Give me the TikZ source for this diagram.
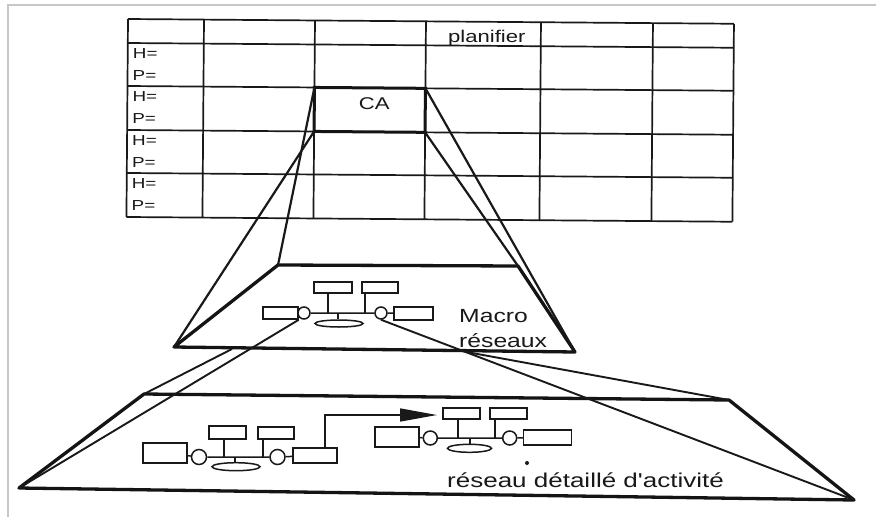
\documentclass[tikz,border=0pt]{standalone}
\usepackage{fontspec}
\setmainfont{Liberation Sans}[Ligatures=TeXOff]
\usetikzlibrary{arrows.meta,shapes.geometric,calc}
\newcommand\wtxt[2]{\scalebox{1.3}[1]{\fontsize{#1}{#1}\selectfont #2}}
\begin{document}
\begin{tikzpicture}[x=1pt,y=-1pt,
  gridline/.style={black!90, line width=1.7pt},
  trap/.style={black!92, line width=3.3pt, line join=round},
  conn/.style={black!90, line width=1.9pt},
  caconn/.style={black!90, line width=2.2pt},
  box/.style={draw=black!90, line width=1.5pt, rectangle, inner sep=0pt},
  circ/.style={draw=black!90, line width=1.5pt, circle, inner sep=0pt},
  ell/.style={draw=black!90, line width=1.5pt, ellipse, inner sep=0pt},
  lbl/.style={inner sep=0pt, text=black!90},
  net/.style={black!90, line width=1.5pt}]

\useasboundingbox (0,0) rectangle (876,517);
\fill[white] (0,0) rectangle (876,517);
\draw[black!22, line width=1.6pt] (8,517) -- (8,5) -- (876,5);

% ---------------- grid ----------------
\begin{scope}[rotate around={-0.45:(128,19)}]
  \foreach \y in {19,43,86,130,173,217} \draw[gridline] (128,\y) -- (734,\y);
  \foreach \x in {128,204,315,426,541,653,734} \draw[gridline] (\x,19) -- (\x,217);
  \coordinate (caNW) at (315,86);
  \coordinate (caNE) at (426,86);
  \coordinate (caSE) at (426,130);
  \coordinate (caSW) at (315,130);
  \draw[black!92, line width=3pt] (caNW) -- (caNE) -- (caSE) -- (caSW) -- cycle;
  \node[lbl, anchor=base] (plan) at (487,39.5) {\wtxt{17}{planifier}};
  \node[lbl, anchor=base] (ca) at (375,108) {\wtxt{17}{CA}};
  \foreach \t/\n in {43/a,86/b,130/c,173/d}{
    \node[lbl, anchor=base west] (h\n) at (133,\t+15) {\wtxt{14.5}{H=}};
    \node[lbl, anchor=base west] (p\n) at (133,\t+37.5) {\wtxt{14.5}{P=}};
  }
\end{scope}

% ---------------- macro level ----------------
\coordinate (mTL) at (278,265);
\coordinate (mTR) at (518,266);
\coordinate (mBR) at (575,352);
\coordinate (mBL) at (174,347);
\draw[trap] (mTL) -- (mTR) -- (mBR) -- (mBL) -- cycle;

\draw[caconn] (caNW) -- (mTL);
\draw[caconn] (caSW) -- (mBL);
\draw[caconn] (caNE) -- (mBR);
\draw[caconn] (caSE) -- (mTR);

\node[box, minimum width=35, minimum height=12] (ml) at (280.5,313) {};
\node[circ, minimum size=12] (mc1) at (304,313) {};
\node[box, minimum width=38, minimum height=11] (mb1) at (333,287.5) {};
\node[box, minimum width=36, minimum height=11] (mb2) at (380,287.5) {};
\node[circ, minimum size=12] (mc2) at (381,313) {};
\node[box, minimum width=39, minimum height=13] (mr) at (413.5,313.5) {};
\node[ell, minimum width=48, minimum height=7] (me) at (339,323.5) {};
\coordinate (mj1) at (328,313);
\coordinate (mj2) at (365,313);
\coordinate (mj3) at (338,313);
\draw[net] (ml) -- (mc1) -- (mc2) -- (mr);
\draw[net] (mj1 |- mb1.south) -- (mj1);
\draw[net] (mj2 |- mb2.south) -- (mj2);
\draw[net] (mj3 |- me.north) -- (mj3);

\node[lbl, anchor=base west] (macro) at (459,322) {\wtxt{19}{Macro}};
\node[lbl, anchor=base west] (reseaux) at (459,347) {\wtxt{19}{réseaux}};

% ---------------- detailed level ----------------
\coordinate (bTL) at (144,394);
\coordinate (bTR) at (729,400);
\coordinate (bBR) at (854,500);
\coordinate (bBL) at (19,488);
\draw[trap] (bTL) -- (bTR) -- (bBR) -- (bBL) -- cycle;

\draw[conn] (ml.south east) -- (bBL);
\coordinate (mlx) at (232,349);
\draw[conn] (mlx) -- (bTL);
\draw[conn] (mc2.south) -- (bBR);
\coordinate (mrx) at ($(mc2.south)!0.177!(bBR)$);
\draw[conn] (mrx) -- (bTR);

% left detailed network
\node[box, minimum width=44, minimum height=20] (bl) at (165,453) {};
\node[circ, minimum size=15] (bc1) at (199,457) {};
\node[box, minimum width=37, minimum height=13] (bb1) at (227.5,432.5) {};
\node[box, minimum width=36, minimum height=12] (bb2) at (276,433) {};
\node[circ, minimum size=15] (bc2) at (277.5,457) {};
\node[box, minimum width=44, minimum height=15] (br) at (315,455.5) {};
\node[ell, minimum width=48, minimum height=8] (be) at (236,466.7) {};
\coordinate (bj1) at (224,457);
\coordinate (bj2) at (263,457);
\coordinate (bj3) at (235,457);
\draw[net] (bl) -- (bc1) -- (bc2) -- (br);
\draw[net] (bj1 |- bb1.south) -- (bj1);
\draw[net] (bj2 |- bb2.south) -- (bj2);
\draw[net] (bj3 |- be.north) -- (bj3);

% right detailed network
\node[box, minimum width=44, minimum height=20] (bl2) at (397,437) {};
\node[circ, minimum size=14] (bc3) at (430.3,438) {};
\node[box, minimum width=37, minimum height=11] (bb3) at (461.5,413.5) {};
\node[box, minimum width=37, minimum height=11] (bb4) at (508.5,413.5) {};
\node[circ, minimum size=14] (bc4) at (509.7,438) {};
\node[box, minimum width=48, minimum height=15] (br2) at (547.5,437.5) {};
\node[ell, minimum width=44, minimum height=8] (be2) at (469.5,448.3) {};
\coordinate (bj4) at (458,438);
\coordinate (bj5) at (495,438);
\coordinate (bj6) at (470,438);
\draw[net] (bl2) -- (bc3) -- (bc4) -- (br2);
\draw[net] (bj4 |- bb3.south) -- (bj4);
\draw[net] (bj5 |- bb4.south) -- (bj5);
\draw[net] (bj6 |- be2.north) -- (bj6);
\fill[black!90] (527,463) circle (2);

% arrow between the two networks
\coordinate (aup) at (325,415);
\coordinate (atip) at (437,415);
\draw[net, -{Triangle[length=37pt,width=13pt]}] (aup |- br.north) -- (aup) -- (atip);

\node[lbl, anchor=base west] (detail) at (447,487) {\wtxt{20}{réseau détaillé d'activité}};
\end{tikzpicture}
\end{document}
